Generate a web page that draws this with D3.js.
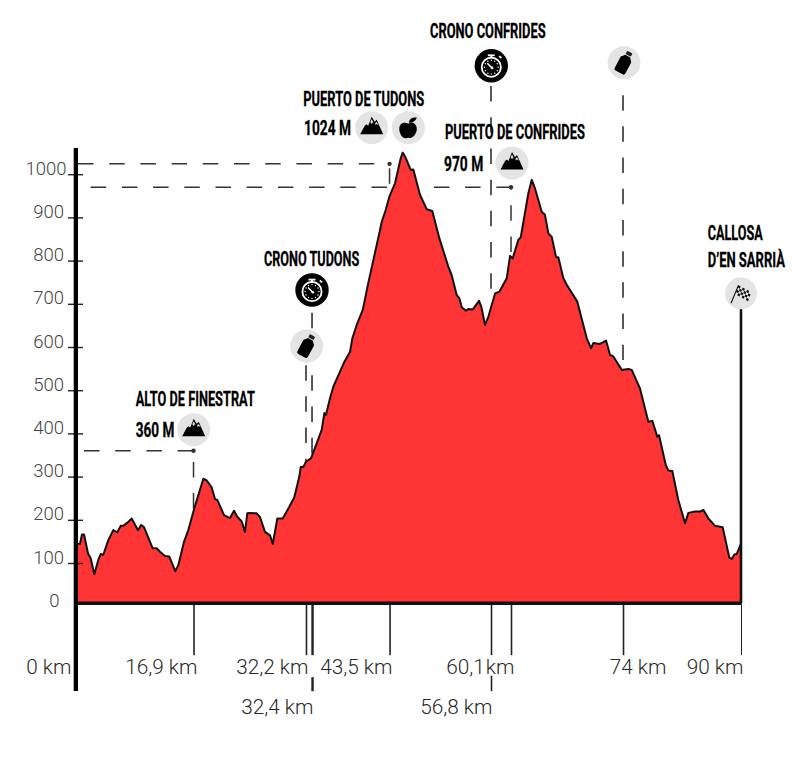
<!DOCTYPE html>
<html>
<head>
<meta charset="utf-8">
<script src="https://cdnjs.cloudflare.com/ajax/libs/d3/7.8.5/d3.min.js"></script>
<style>
html,body{margin:0;padding:0;background:#fff}
svg{display:block}
.ttl{font-family:Roboto,"Liberation Sans",sans-serif;font-weight:700;fill:#000;stroke:#000;stroke-width:.3}
.ax text{font-family:Roboto,sans-serif;font-weight:300}
</style>
</head>
<body>
<svg id="c" width="807" height="768"></svg>
<script>
// ---- profile ----
const profileKm = [0,0.47,0.74,1.02,1.56,1.92,2.41,2.95,3.28,3.63,4.31,4.98,5.53,5.99,6.34,6.94,7.48,8.33,8.74,9.14,10.32,10.86,11.31,11.99,12.57,13.38,13.79,14.56,15.14,15.96,17.18,17.64,18.31,18.76,19.07,19.98,20.79,21.33,21.78,22.38,22.82,23.13,23.5,24.41,24.86,25.53,26.21,26.58,27.2,27.93,28.82,29.5,30.18,30.37,30.72,31.09,31.76,32.53,33.21,33.57,33.79,34.33,34.78,35.69,36.23,37.05,37.36,37.95,38.77,39.52,41.11,41.34,41.88,42.37,43.14,43.91,44.18,44.5,45.27,45.62,46.53,47.43,48.19,49.14,50.36,50.82,51.5,51.85,52.18,52.76,53.07,53.67,54.52,54.83,55.33,55.78,56.69,57.27,58.27,58.72,59.08,59.84,60.17,61.2,61.66,62.1,63.01,63.45,63.91,64.37,64.95,65.26,65.94,66.4,67.83,69.11,69.69,70,70.91,71.72,72.26,72.71,73.85,74.74,75.2,76.32,76.77,77.45,77.99,78.67,78.9,79.81,80.16,80.7,81.51,82.42,82.87,83.78,84.45,84.9,85.58,86.49,87.52,88.42,88.78,89.1,89.42,90];
const profileElev = [144,144,166,166,122,111,74,107,121,119,153,176,171,186,186,194,203,176,188,183,134,134,126,116,115,81,95,149,176,227,295,291,275,248,246,211,204,221,207,196,172,215,216,215,206,172,164,144,203,203,230,252,300,322,322,335,342,377,408,447,443,481,508,543,564,589,620,651,686,748,871,890,917,948,979,1037,1050,1041,1010,1011,952,919,915,852,786,766,720,713,692,684,688,687,707,693,651,670,724,728,759,811,805,848,854,956,987,967,913,906,863,855,808,808,759,744,705,620,597,609,607,615,582,578,547,549,547,504,473,427,429,392,396,327,314,313,246,192,216,219,219,223,203,186,183,112,110,120,121,144];
const baseElev = 7;

// ---- axes ----
const elevTicks = [0,100,200,300,400,500,600,700,800,900,1000];
const markerKm = [0,15.85,31.08,31.9,42.4,56.14,58.85,74.02,90];
const markerLabels = ["0 km","16,9 km","32,2 km","32,4 km","43,5 km","56,8 km","60,1 km","74 km","90 km"];

// ---- summit read-outs (elevations) ----
const summitElev = [360,1024,970];
const summitMarkerKm = [15.85,42.4,58.85];

// ---- callout texts ----
const calloutTexts = ["ALTO DE FINESTRAT","360 M","CRONO TUDONS","PUERTO DE TUDONS","1024 M","PUERTO DE CONFRIDES","970 M","CRONO CONFRIDES","CALLOSA","D’EN SARRIÀ"];
const iconKinds = ["mountain","bottle","watch","mountain","apple","mountain","watch","bottle","flag"];

// ---- layout (not data) ----
const W=807,H=768;
const x=d3.scaleLinear().domain([0,90]).range([76.5,741]);
const y=d3.scaleLinear().domain([0,1000]).range([606.2,174.2]);
const calloutBox=[[135.7,405.7,119.3],[135.7,436.7,38.6],[264,266,95.3],[303.3,106,121],[304,135,47],[445,139.3,140],[444,171,39.3],[430,37.7,115.7],[707.7,240,55],[707.7,266.7,77.3]];
const iconPos=[[193.7,429.7],[306.7,346],[312,290],[371.7,127.7],[408.3,127.7],[512,163],[491.3,65.7],[624,62.7],[741,293.3]];
const labelEndX=[71,197,308,313,392,492,514,666,743];
const labelRowY=[674,674,674,714,674,714,674,674,674];

const svg=d3.select("#c");

// dashed leaders behind the profile
const dash="15.5 15.7";
const leaders=svg.append("g").attr("fill","none").attr("stroke","#333").attr("stroke-width",1.5);
const hStart=[84,78,90.7];
summitElev.forEach((e,i)=>{
  leaders.append("line").attr("x1",hStart[i]).attr("x2",x(summitMarkerKm[i])).attr("y1",y(e)).attr("y2",y(e)).attr("stroke-dasharray",dash);
});
const vOffset=[20,26.8,13];
const vEnd=[220,860,760];
summitElev.forEach((e,i)=>{
  leaders.append("line").attr("x1",x(summitMarkerKm[i])).attr("x2",x(summitMarkerKm[i])).attr("y1",y(e)).attr("y2",y(vEnd[i])).attr("stroke-dasharray",dash).attr("stroke-dashoffset",vOffset[i]);
});
// [km, top elevation, bottom elevation]
const poleKm=[31.08,31.9,56.14,74.02];
const poleTop=[558,679,1204,1183];
const poleBottom=[336,343,734,570];
poleKm.forEach((k,i)=>{
  leaders.append("line").attr("x1",x(k)).attr("x2",x(k)).attr("y1",y(poleTop[i])).attr("y2",y(poleBottom[i])).attr("stroke-dasharray",dash).attr("stroke","#222");
});

// profile
const data=profileKm.map((k,i)=>({k,e:profileElev[i]}));
svg.append("path").datum(data).attr("fill","#ff3535")
  .attr("d",d3.area().x(d=>x(d.k)).y0(y(baseElev)).y1(d=>y(d.e)));
svg.append("path").datum(data).attr("fill","none").attr("stroke","#111").attr("stroke-width",2).attr("stroke-linejoin","round")
  .attr("d",d3.line().x(d=>x(d.k)).y(d=>y(d.e)));

// summit dots
svg.append("g").selectAll("circle").data(summitElev).join("circle")
  .attr("cx",(d,i)=>x(summitMarkerKm[i])).attr("cy",d=>y(d)).attr("r",2.2).attr("fill","#333");

// finish pole
svg.append("line").attr("x1",x(90)).attr("x2",x(90)).attr("y1",309).attr("y2",y(baseElev)).attr("stroke","#111").attr("stroke-width",2.6);

// bottom axis
const xAxis=d3.axisBottom(x).tickValues(markerKm).tickSize(52).tickFormat((d,i)=>markerLabels[i]);
const gx=svg.append("g").attr("class","ax").attr("transform",`translate(0,${y(baseElev)})`).call(xAxis);
gx.select(".domain").remove();
gx.selectAll(".tick line").attr("stroke","#222").attr("stroke-width",(d,i)=>i===3?2.4:i===8?1:1.6).attr("opacity",(d,i)=>i===0?0:1);
gx.selectAll(".tick text").each(function(d,i){
  d3.select(this).attr("text-anchor","end").attr("font-size",20.8).attr("fill","#2a2a2a")
    .attr("word-spacing",i===6?-4:0)
    .attr("x",labelEndX[i]-x(d)).attr("y",labelRowY[i]-y(baseElev)).attr("dy",0);
});
// lower tick stubs for the second label row
gx.selectAll(".tick").filter((d,i)=>i===3||i===5).append("line")
  .attr("y1",(d)=>d===31.9?74:72.5).attr("y2",88).attr("stroke","#222").attr("stroke-width",d=>d===31.9?2.4:1.6);

// baseline
svg.append("line").attr("x1",x(0)).attr("x2",x(90)).attr("y1",y(baseElev)).attr("y2",y(baseElev)).attr("stroke","#111").attr("stroke-width",3.6);

// left axis
const yAxis=d3.axisLeft(y).tickValues(elevTicks).tickSize(15).tickPadding(4).tickFormat(d3.format("d"));
const gy=svg.append("g").attr("class","ax").attr("transform","translate(83,0)").call(yAxis);
gy.select(".domain").remove();
gy.selectAll(".tick line").attr("stroke","#222").attr("stroke-width",1.4).attr("opacity",d=>d===0?0:1);
gy.selectAll(".tick text").attr("font-size",18.5).attr("fill","#444").attr("dy",0)
  .attr("x",d=>d===1000?-16.5:d===0?-23.5:-19);
svg.append("rect").attr("x",73.7).attr("y",148).attr("width",4.3).attr("height",543).attr("fill","#000");

// callout titles: squeezed horizontally to the condensed width of the original lettering
svg.append("g").selectAll("text").data(calloutTexts).join("text").attr("class","ttl")
  .attr("font-size",20)
  .text(d=>d)
  .each(function(d,i){
    const sx=calloutBox[i][2]/this.getComputedTextLength();
    d3.select(this).attr("transform",`translate(${calloutBox[i][0]},${calloutBox[i][1]}) scale(${sx},1)`);
  });

// icons
const drawIcon={
  mountain(g){
    g.append("circle").attr("r",16.5).attr("fill","#e4e4e4");
    g.append("path").attr("fill","#000").attr("d","M-11.5 6.5 L-7 -2 L-5 -3.5 L-3.5 -2 L0 -11 L3 -6 L5 -8 L11.5 6.5 Z");
    g.append("path").attr("fill","#e4e4e4").attr("d","M0 -8.5 L2 -4.5 L1 -5.5 L0 -3.5 L-1 -5.5 L-1.9 -4.5 Z M5 -5.8 L7 -2.5 L5 -3.6 L3.7 -2.6 L3.5 -4.6 Z");
  },
  apple(g){
    g.append("circle").attr("r",16.5).attr("fill","#e4e4e4");
    g.append("path").attr("fill","#000").attr("d","M0 -4 C-3 -6 -9 -5.5 -9 1 C-9 6.5 -5.5 11 -2.5 10.5 C-1 10.2 0 9.6 1.2 10.2 C4 11.2 8.5 6 8.5 1.5 C8.5 -5 3 -6 0 -4 Z");
    g.append("path").attr("fill","#000").attr("d","M0.5 -5 C1 -8.5 4 -10.5 8.5 -10 C7.5 -7 4 -4.5 0.5 -5 Z");
  },
  bottle(g){
    g.append("circle").attr("r",16.5).attr("fill","#e4e4e4");
    const b=g.append("g").attr("transform","translate(0,0.5) rotate(28)");
    b.append("rect").attr("x",-6).attr("y",-5.5).attr("width",12).attr("height",16).attr("rx",2).attr("fill","#000");
    b.append("path").attr("d","M-6 -4 L-2.8 -8 L2.8 -8 L6 -4 Z").attr("fill","#000");
    b.append("rect").attr("x",-3).attr("y",-12.5).attr("width",6).attr("height",3.6).attr("rx",1).attr("fill","#222");
  },
  watch(g){
    g.append("circle").attr("r",16.7).attr("fill","#000");
    g.append("circle").attr("cy",1.5).attr("r",9.6).attr("fill","none").attr("stroke","#fff").attr("stroke-width",1.8);
    g.append("rect").attr("x",-3.5).attr("y",-11.3).attr("width",7).attr("height",1.8).attr("fill","#fff");
    g.append("rect").attr("x",-1).attr("y",-10).attr("width",2).attr("height",2.5).attr("fill","#fff");
    g.append("rect").attr("x",7.5).attr("y",-9.5).attr("width",3).attr("height",1.8).attr("transform","rotate(40 9 -8.6)").attr("fill","#fff");
    d3.range(12).forEach(i=>{
      const a=i*Math.PI/6;
      g.append("circle").attr("cx",6.9*Math.cos(a)).attr("cy",1.5+6.9*Math.sin(a)).attr("r",0.7).attr("fill","#fff");
    });
    g.append("line").attr("x1",-4).attr("y1",-2.5).attr("x2",1).attr("y2",2.5).attr("stroke","#fff").attr("stroke-width",1.5);
    g.append("circle").attr("cx",0.8).attr("cy",2.2).attr("r",1.3).attr("fill","#fff");
  },
  flag(g){
    g.append("circle").attr("r",16).attr("fill","#e4e4e4");
    g.append("line").attr("x1",-10).attr("y1",10).attr("x2",-2.5).attr("y2",-8).attr("stroke","#111").attr("stroke-width",1.1);
    const f=g.append("g").attr("transform","translate(-2.5,-8) rotate(20) skewY(8)");
    d3.range(4).forEach(r=>d3.range(6).forEach(c=>{
      if((r+c)%2===0) f.append("rect").attr("x",c*2.4).attr("y",r*2.4).attr("width",2.4).attr("height",2.4).attr("fill","#111");
    }));
  }
};
iconKinds.forEach((k,i)=>{
  const g=svg.append("g").attr("transform",`translate(${iconPos[i][0]},${iconPos[i][1]})`);
  drawIcon[k](g);
});
</script>
</body>
</html>
